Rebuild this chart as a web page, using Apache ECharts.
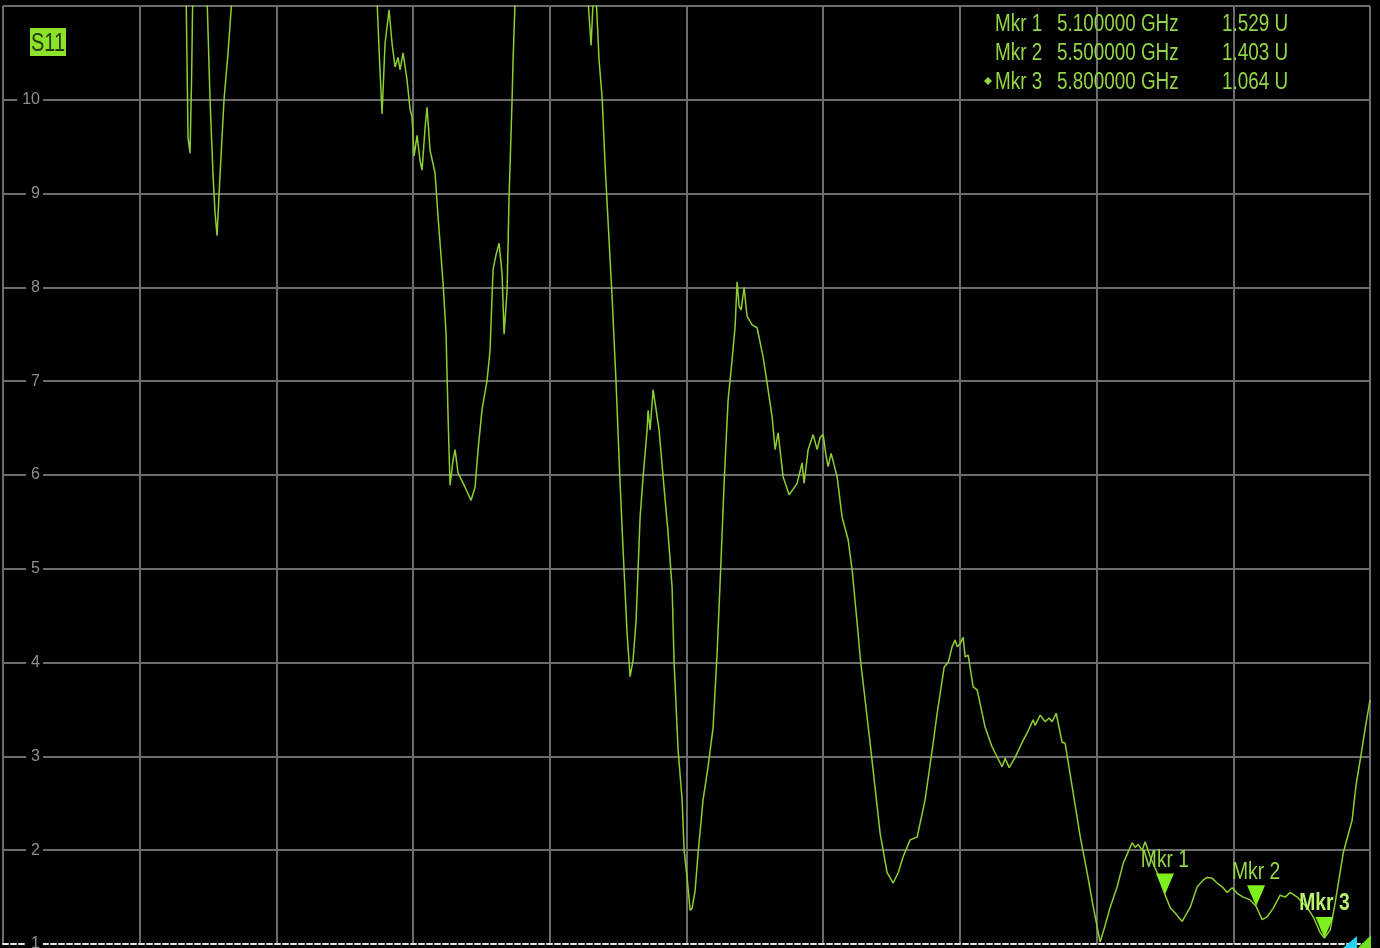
<!DOCTYPE html>
<html><head><meta charset="utf-8">
<script src="https://cdn.jsdelivr.net/npm/echarts@6/dist/echarts.min.js"></script>
<style>html,body{margin:0;padding:0;background:#000;overflow:hidden}#c{width:1380px;height:948px}</style>
</head><body><div id="c"></div>
<script>
// ---- data ----
const traceName = 'S11';
const freqGHz = [0,0.7902,0.8033,0.8121,0.8209,0.8275,0.8341,0.8472,0.8824,0.8955,0.9087,0.9219,0.9306,0.9394,0.9526,0.9701,0.9877,1.0053,1.0228,
1.6111,1.6418,1.6550,1.6637,1.6769,1.6945,1.7076,1.7208,1.7340,1.7428,1.7559,1.7735,1.7866,1.7954,1.8042,1.8174,1.8305,1.8393,1.8525,1.8613,1.8744,1.8964,1.9096,1.9315,1.9447,1.9535,1.9622,1.9754,1.9842,1.9974,2.0281,2.0544,2.0720,2.0852,2.1027,2.1247,2.1378,2.1510,2.1642,2.1773,2.1905,2.1993,2.2125,2.2212,2.2344,2.2388,2.2476,2.2607,
2.5505,2.5680,2.5812,2.5900,2.5988,2.6075,2.6163,2.6295,2.6427,2.6558,2.6734,2.6909,2.7085,2.7217,2.7392,2.7524,2.7656,2.7787,2.7963,2.8095,2.8270,2.8314,2.8402,2.8534,2.8621,2.8797,2.8973,2.9192,2.9368,2.9456,2.9631,2.9807,2.9895,3.0026,3.0158,3.0246,3.0378,3.0509,3.0729,3.0948,3.1168,3.1343,3.1475,3.1650,3.1826,3.2002,3.2133,3.2221,3.2309,3.2397,3.2528,3.2660,3.2880,3.3099,3.3362,3.3538,3.3758,3.3889,3.4021,3.4240,3.4504,3.4679,3.4855,3.5074,3.5162,3.5338,3.5557,3.5733,3.5865,3.5996,3.6128,3.6216,3.6348,3.6611,3.6830,3.7094,3.7269,3.7533,3.7621,3.8060,3.8499,3.8806,3.9069,3.9289,3.9508,3.9816,4.0123,4.0474,4.0825,4.1001,4.1308,4.1484,4.1659,4.1791,4.1879,4.2011,4.2142,4.2230,4.2362,4.2581,4.2757,4.3108,4.3415,4.3854,4.3986,4.4161,4.4425,4.4732,4.4952,4.5215,4.5303,4.5522,4.5742,4.5917,4.6049,4.6225,4.6488,4.6620,4.6971,4.7278,4.7585,4.7849,4.8156,4.8376,4.8595,4.8902,4.9166,4.9561,4.9693,4.9824,5.0000,5.0131,5.0351,5.0658,5.1,5.1229,5.1448,5.1756,5.2107,5.2414,5.2678,5.2853,5.3073,5.3292,5.3512,5.3731,5.3951,5.4170,5.4434,5.4741,5.5,5.5268,5.5487,5.5750,5.6058,5.6277,5.6497,5.6804,5.7243,5.7506,5.7814,5.8,5.8253,5.8472,5.8823,5.9215,5.9391,5.9569,5.9789,6.0];
const s11Values = [14,13,11.2,9.6,9.43,10.2,11.3,13,13,11.1,10.0,9.2,8.8,8.55,9.2,10.0,10.5,11.1,13,
13,11.05,10.3,9.85,10.6,10.96,10.6,10.35,10.45,10.32,10.5,10.21,9.9,9.82,9.4,9.62,9.35,9.25,9.7,9.92,9.46,9.22,8.75,8.05,7.5,6.62,5.89,6.16,6.27,6.02,5.87,5.73,5.87,6.27,6.7,7.01,7.33,8.19,8.35,8.47,8.15,7.5,7.97,8.96,10.0,10.42,11.05,13,
13,11.05,10.58,11.05,11.3,10.88,10.42,10.03,9.3,8.7,7.9,6.98,5.91,5.2,4.31,3.85,4.03,4.45,5.55,5.98,6.48,6.69,6.48,6.91,6.77,6.48,5.98,5.38,4.8,4.0,3.07,2.54,2.0,1.71,1.36,1.38,1.57,1.97,2.54,2.89,3.31,4.1,4.85,5.91,6.8,7.23,7.58,8.06,7.8,7.76,8.0,7.69,7.6,7.57,7.26,6.98,6.62,6.27,6.45,5.98,5.79,5.85,5.91,6.13,5.91,6.27,6.43,6.27,6.4,6.43,6.2,6.09,6.23,5.98,5.55,5.31,4.99,4.31,4.06,3.14,2.18,1.76,1.65,1.76,1.93,2.11,2.14,2.54,3.14,3.46,3.95,4.0,4.17,4.24,4.17,4.2,4.27,4.06,4.08,3.74,3.71,3.31,3.1,2.89,2.98,2.88,2.99,3.15,3.25,3.39,3.33,3.44,3.37,3.41,3.37,3.46,3.15,3.14,2.61,2.15,1.76,1.4,1.02,1.2,1.39,1.61,1.86,2.08,2.03,2.06,2.0,2.09,1.93,1.76,1.529,1.39,1.33,1.24,1.39,1.61,1.68,1.71,1.70,1.65,1.61,1.55,1.60,1.54,1.50,1.47,1.403,1.26,1.29,1.38,1.52,1.50,1.55,1.50,1.39,1.29,1.12,1.064,1.15,1.44,1.97,2.32,2.7,2.96,3.3,3.6];
const yTickLabels = ['1','2','3','4','5','6','7','8','9','10',''];
const markerNames = ['Mkr 1','Mkr 2','Mkr 3'];
const markerFreqs = [5.1, 5.5, 5.8];
const markerVals = [1.529, 1.403, 1.064];
const activeMarker = 2;
const valueUnit = 'U';

// ---- styles ----
const FONT = '"Liberation Sans", Arial, sans-serif';
const traceColor = '#8dcf31';
const textGreen = '#93d646';
const gridColor = '#6c6c6c';

const traceData = freqGHz.map((f, i) => [f, s11Values[i]]);
const markerData = markerFreqs.map((f, i) => [f, markerVals[i], i]);

const graphics = [];
graphics.push({type:'rect', x:30, y:28, shape:{width:36, height:28}, style:{fill:'#8de22a'}, z:100});
graphics.push({type:'text', x:48, y:44, scaleX:0.8, style:{text:traceName, fill:'#253d0c', font:'25px ' + FONT, align:'center', verticalAlign:'middle'}, z:101});
const rowY = [25, 54, 83];
markerNames.forEach((n, i) => {
  const st = {fill:textGreen, font:'23px ' + FONT, verticalAlign:'middle', align:'left'};
  graphics.push({type:'text', x:995, y:rowY[i], scaleX:0.82, style:Object.assign({text:n}, st), z:100});
  graphics.push({type:'text', x:1057, y:rowY[i], scaleX:0.82, style:Object.assign({text:markerFreqs[i].toFixed(6) + ' GHz'}, st), z:100});
  graphics.push({type:'text', x:1222, y:rowY[i], scaleX:0.82, style:Object.assign({text:markerVals[i].toFixed(3) + ' ' + valueUnit}, st), z:100});
  if (i === activeMarker) {
    graphics.push({type:'polygon', shape:{points:[[988,rowY[i]-6],[992,rowY[i]-2],[988,rowY[i]+2],[984,rowY[i]-2]]}, style:{fill:textGreen}, z:100});
  }
});
graphics.push({type:'polygon', shape:{points:[[1343,948],[1357,936],[1357,948]]}, style:{fill:'#22d4f2'}, z:100});
graphics.push({type:'polygon', shape:{points:[[1358,948],[1371,935],[1371,948]]}, style:{fill:'#6fe01e'}, z:100});

const chart = echarts.init(document.getElementById('c'), null, {renderer:'canvas'});
chart.setOption({
  backgroundColor:'#000',
  animation:false,
  grid:{left:3, top:6, right:10, height:938, containLabel:false, outerBoundsMode:'none', show:false},
  xAxis:{
    type:'value', min:0, max:6, interval:0.6,
    axisLine:{show:true, onZero:false, lineStyle:{color:'#e6e6e6', width:2, type:[5,3]}},
    axisTick:{show:false}, axisLabel:{show:false},
    splitLine:{show:true, showMinLine:true, showMaxLine:true, lineStyle:{color:gridColor, width:2}}
  },
  yAxis:{
    type:'value', min:1, max:11, interval:1,
    axisLine:{show:false}, axisTick:{show:false},
    axisLabel:{
      show:true, inside:true, margin:40, align:'right',
      color:'#8e8e8e', fontSize:16, fontFamily:FONT,
      backgroundColor:'#000', padding:[0,3,0,5],
      formatter:(v) => yTickLabels[Math.round(v) - 1] || ''
    },
    splitLine:{show:true, showMinLine:false, showMaxLine:true, lineStyle:{color:gridColor, width:2}}
  },
  series:[
    {
      type:'line', name:traceName, data:traceData, showSymbol:false, symbol:'none',
      clip:true, lineStyle:{color:traceColor, width:1.5}, z:5, silent:true
    },
    {
      type:'custom', name:'markers', data:markerData, z:10, silent:true, clip:false,
      renderItem:function(params, api){
        const p = api.coord([api.value(0), api.value(1)]);
        const i = api.value(2);
        const active = i === activeMarker;
        return {type:'group', children:[
          {type:'polygon', shape:{points:[[p[0]-9,p[1]-21],[p[0]+9,p[1]-21],[p[0],p[1]]]}, style:{fill:'#7ef01e'}},
          {type:'text', x:p[0], y:p[1]-34, scaleX:0.84, style:{
            text:markerNames[i], fill: active ? '#b6f26e' : textGreen,
            font:(active ? 'bold ' : '') + '23px ' + FONT, align:'center', verticalAlign:'middle'}}
        ]};
      }
    }
  ],
  graphic:{elements:graphics}
});
</script>
</body></html>
